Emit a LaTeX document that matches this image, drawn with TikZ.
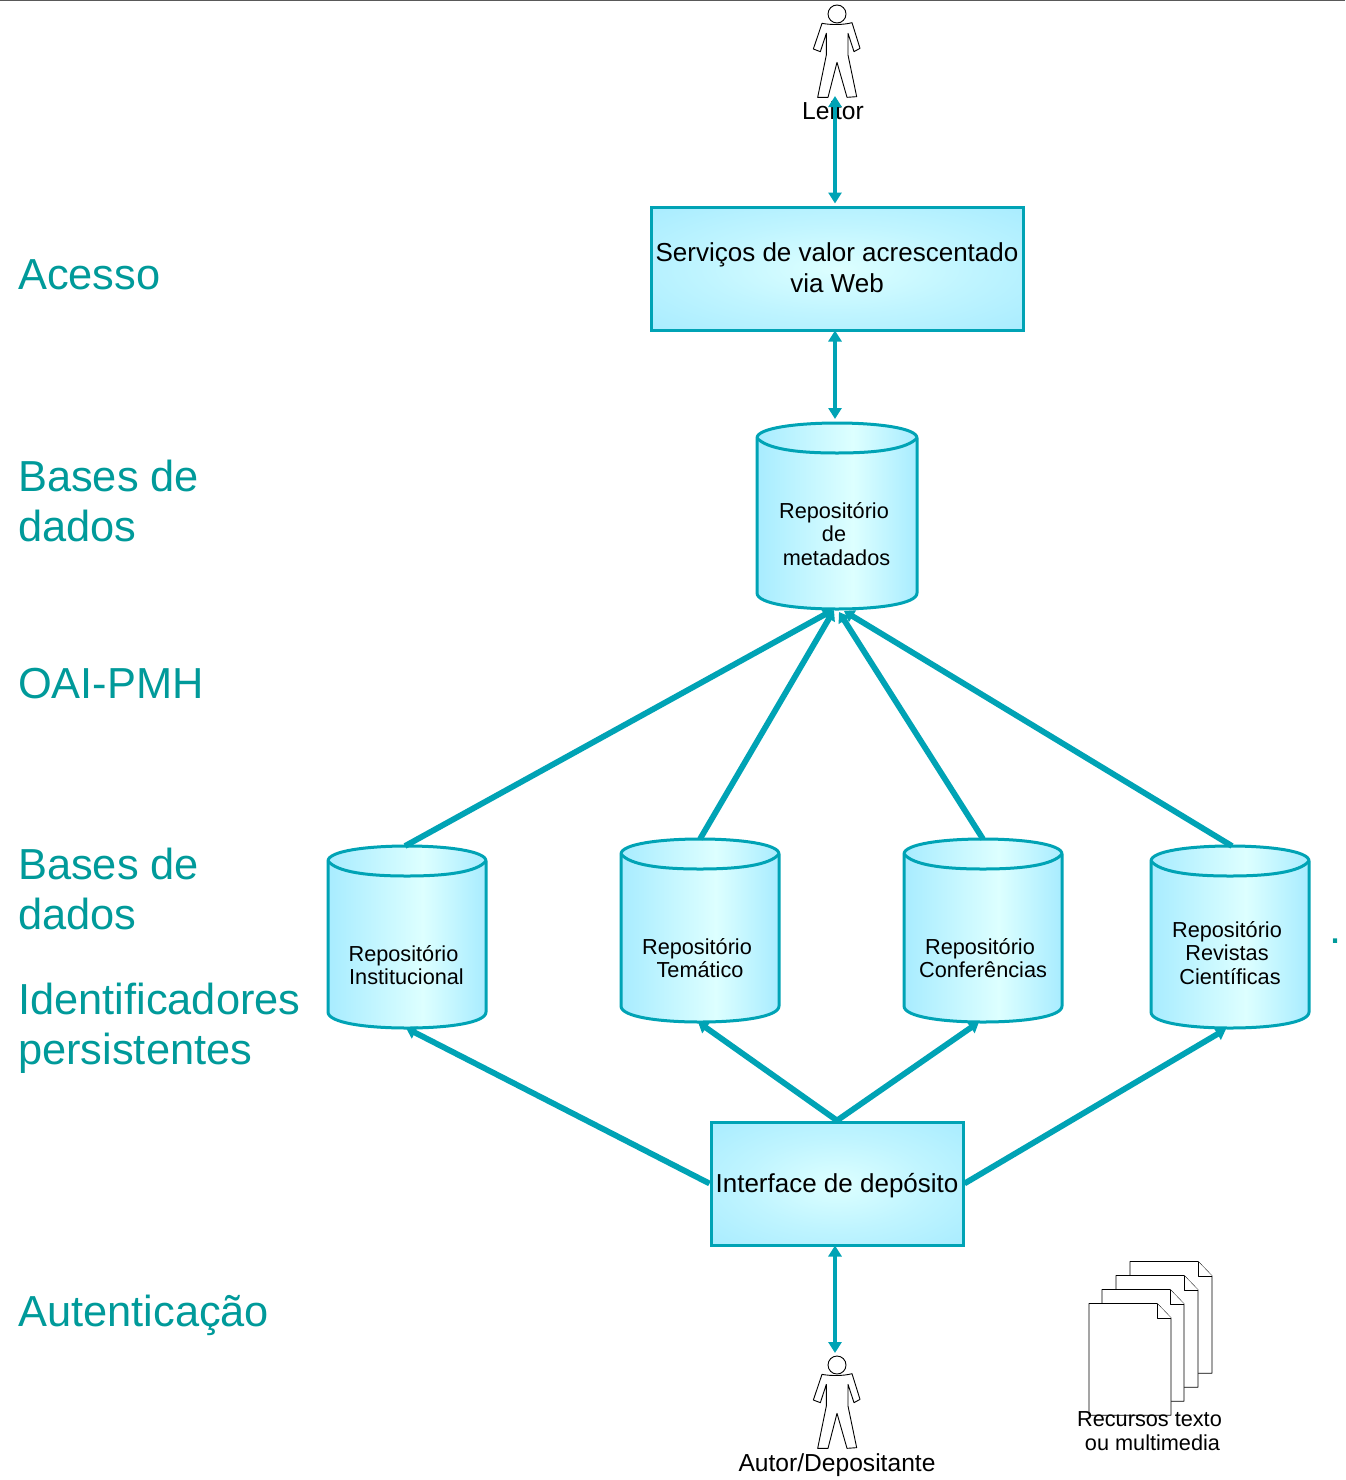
\documentclass[tikz,border=0pt]{standalone}
\usepackage{fontspec}
\setmainfont{Liberation Sans}
\usetikzlibrary{arrows.meta,calc}
\definecolor{tealline}{HTML}{00A3B5}
\definecolor{lab}{HTML}{009A9A}
\definecolor{edgefill}{HTML}{A8ECFF}
\definecolor{midfill}{HTML}{DDFFFF}
\pgfdeclarehorizontalshading{cylshade}{100bp}{color(0bp)=(edgefill);color(25bp)=(edgefill);color(55bp)=(midfill);color(75bp)=(edgefill);color(100bp)=(edgefill)}
\pgfdeclareradialshading{boxshade}{\pgfpoint{0bp}{0bp}}{color(0bp)=(midfill);color(18bp)=(edgefill!55!midfill);color(36bp)=(edgefill);color(50bp)=(edgefill)}
\tikzset{
  x=1pt,y=-1pt,
  sidelabel/.style={anchor=base west,inner sep=0pt,text=lab,font=\fontsize{43.4}{50}\selectfont},
  boxlabel/.style={align=center,inner sep=0pt,font=\fontsize{26}{31}\selectfont},
  cyllabel/.style={align=center,inner sep=0pt,font=\fontsize{21.7}{23.5}\selectfont},
  doclabel/.style={align=center,inner sep=0pt,font=\fontsize{21.7}{24}\selectfont},
  personlabel/.style={align=center,inner sep=0pt,font=\fontsize{24.6}{28}\selectfont},
  stagebox/.style={draw=tealline,line width=3pt,shading=boxshade,inner sep=0pt,minimum width=#1},
  thinarrow/.style={draw=tealline,line width=4.2pt,{Triangle[length=11pt,width=13pt,fill=tealline]}-{Triangle[length=11pt,width=13pt,fill=tealline]}},
  flow/.style={draw=tealline,line width=5.8pt,-{Triangle[length=10pt,width=13pt,fill=tealline]}},
  figure/.style={draw=black,line width=.9pt,fill=white,line join=round}
}
% cylinder: name, centre x, top y, bottom y, half width
\newcommand{\repocyl}[5]{%
  \path[draw=tealline,line width=3pt,shading=cylshade]
    (#2-#5,#3+15) -- (#2-#5,#4-16)
    .. controls (#2-#5,#4-5) and (#2-40,#4) .. (#2,#4)
    .. controls (#2+40,#4) and (#2+#5,#4-5) .. (#2+#5,#4-16)
    -- (#2+#5,#3+15)
    .. controls (#2+#5,#3+5) and (#2+40,#3) .. (#2,#3)
    .. controls (#2-40,#3) and (#2-#5,#3+5) .. (#2-#5,#3+15) -- cycle;
  \draw[draw=tealline,line width=3pt]
    (#2-#5,#3+15) .. controls (#2-70,#3+26) and (#2-40,#3+30) .. (#2,#3+30)
    .. controls (#2+40,#3+30) and (#2+70,#3+26) .. (#2+#5,#3+15);
  \coordinate (#1) at (#2,#3);
  \coordinate (#1-b) at (#2,#4);
}
% person: name, head centre x, y
\newcommand{\person}[3]{%
  \begin{scope}[shift={(#2,#3)},x=.3333pt,y=-.3333pt]
    \draw[figure] (-45,28) .. controls (-20,33) and (20,33) .. (45,26)
      -- (69,103) -- (51,113) -- (33,58) -- (33,123) -- (59,248) -- (30,250)
      -- (0,145) -- (-27,250) -- (-58,250) -- (-32,123) -- (-32,58) -- (-50,113) -- (-71,105) -- cycle;
    \draw[figure] (0,0) circle (27);
    \coordinate (#1) at (0,0);
  \end{scope}
}
% page of the document stack: top-left corner
\newcommand{\docpage}[2]{%
  \draw[figure] (#1,#2) -- (#1+68,#2) -- (#1+82,#2+14.5) -- (#1+82,#2+111.7) -- (#1,#2+111.7) -- cycle;
  \draw[figure] (#1+68,#2) -- (#1+68,#2+14.5) -- (#1+82,#2+14.5);
}
\begin{document}
\begin{tikzpicture}
\useasboundingbox (0,0) rectangle (1345,1480);
\fill[white] (0,0) rectangle (1345,1480);
\draw[black!65,line width=1.5pt] (0,0.5) -- (1345,0.5);

% side labels
\node[sidelabel] (lacesso) at (18,289) {Acesso};
\node[sidelabel] (lbases) at (18,491) {Bases de};
\node[sidelabel] (ldados) at (18,541) {dados};
\node[sidelabel] (loai) at (18,698) {OAI-PMH};
\node[sidelabel] (lbasesb) at (18,879) {Bases de};
\node[sidelabel] (ldadosb) at (18,929) {dados};
\node[sidelabel] (lid) at (18,1014) {Identificadores};
\node[sidelabel] (lper) at (18,1064) {persistentes};
\node[sidelabel] (laut) at (18,1326) {Autenticação};
\node[sidelabel] (ldots) at (1329,943) {.};

% boxes
\node[stagebox=372pt,minimum height=123pt] (servicos) at (837,268.5) {};
\node[boxlabel] (servicostxt) at (837,268) {Serviços de valor acrescentado\\via Web};
\node[stagebox=252pt,minimum height=123pt] (interface) at (837,1183.5) {};
\node[boxlabel] (interfacetxt) at (837,1186) {Interface de depósito};

% cylinders
\repocyl{meta}{837}{423}{609}{80}
\repocyl{inst}{407}{846}{1028}{79}
\repocyl{tema}{700}{839}{1022}{79}
\repocyl{conf}{983}{839}{1022}{79}
\repocyl{rev}{1230}{846}{1028}{79}
\node[cyllabel] (metatxt) at (836.5,534) {\hspace*{-5pt}Repositório\\\hspace*{-5pt}de\\metadados};
\node[cyllabel] (insttxt) at (406.5,965) {\hspace*{-6pt}Repositório\\Institucional};
\node[cyllabel] (tematxt) at (698.5,958) {\hspace*{-3pt}Repositório\\\hspace*{3pt}Temático};
\node[cyllabel] (conftxt) at (983,958) {\hspace*{-6pt}Repositório\\Conferências};
\node[cyllabel] (revtxt) at (1228.5,953) {\hspace*{-3pt}Repositório\\\hspace*{-3pt}Revistas\\\hspace*{3pt}Científicas};

% persons and labels
\person{leitor}{837}{14}
\person{autor}{837}{1365}
\node[personlabel] (leitortxt) at (833,111) {Leitor};
\node[personlabel] (autortxt) at (837,1465) {Autor/Depositante};

% documents
\docpage{1130}{1261.5}
\docpage{1116}{1275.5}
\docpage{1102}{1289.5}
\docpage{1089}{1303.5}
\node[doclabel] (docstxt) at (1152.5,1431) {\hspace*{-6pt}Recursos texto\\ou multimedia};

% connectors
\coordinate (leitorend) at ($(leitor)+(-2,82)$);
\draw[thinarrow] (leitorend) -- ($(servicos.north -| leitorend)+(0,-2)$);
\draw[thinarrow] ($(servicos.south -| leitorend)+(0,-1)$) -- ($(meta)+(-2,-4)$);
\draw[thinarrow] ($(interface.south -| leitorend)+(0,-1)$) -- ($(autor)+(-2,-12)$);

\draw[flow] (inst) ++(-2,0) -- ($(meta-b)+(-4,1)$);
\draw[flow] (tema) -- ($(meta-b)+(-3,1)$);
\draw[flow] (conf) -- ($(meta-b)+(2,3)$);
\draw[flow] (rev) ++(2,0) -- ($(meta-b)+(7,2)$);

\draw[flow] (interface.west) -- ($(inst-b)+(-1,0)$);
\draw[flow] (interface.north) -- ($(tema-b)+(-2,0)$);
\draw[flow] (interface.north) -- ($(conf-b)+(-4,0)$);
\draw[flow] (interface.east) -- ($(rev-b)+(-4,1)$);
\end{tikzpicture}
\end{document}
